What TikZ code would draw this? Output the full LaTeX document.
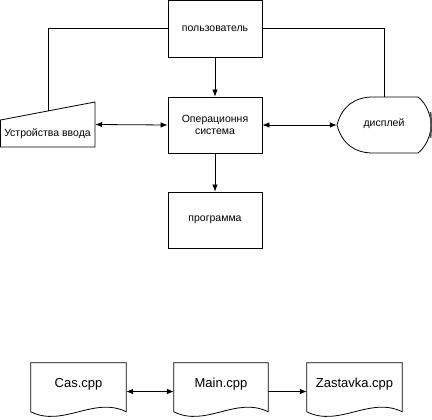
\documentclass[tikz,border=0pt]{standalone}
\usepackage{fontspec}
\setmainfont{Liberation Sans}
\usetikzlibrary{arrows.meta,calc}
\begin{document}
\begin{tikzpicture}[x=1pt,y=-1pt,
  box/.style={draw,line width=0.8pt,minimum width=94pt,minimum height=56pt,inner sep=0pt,font=\fontsize{10.5}{12}\selectfont,align=center},
  ghost/.style={inner sep=0pt},
  lbl/.style={inner sep=0pt,font=\fontsize{10.5}{12}\selectfont},
  doclbl/.style={inner sep=0pt,font=\fontsize{13}{15}\selectfont},
  ln/.style={line width=0.8pt},
  arr/.style={ln,-{Latex[length=7pt,width=5.5pt]}},
  barr/.style={ln,{Latex[length=7pt,width=5.5pt]}-{Latex[length=7pt,width=5.5pt]}}]
\useasboundingbox (0,0) rectangle (432,420);
\fill[white] (0,0) rectangle (432,420);
% top diagram
\node[box,minimum height=57pt] (user) at (215,28.5) {пользователь};
\node[box] (os) at (215,125) {Операционня\\система};
\node[box] (prog) at (215,220) {программа};
% input device
\node[ghost,minimum width=95pt,minimum height=45pt] (inp) at (47.5,124.5) {};
\draw[ln,fill=white] (0.5,120) -- (95,102) -- (95,147) -- (0.5,147) -- cycle;
\node[lbl] (inptext) at (47.5,134) {Устройства ввода};
\coordinate (inptop) at (48,110.9);
% display
\node[ghost,minimum width=95pt,minimum height=56pt] (disp) at (384.5,125) {};
\draw[ln,fill=white] (337,125) .. controls (342,106) and (355,97) .. (373,97) -- (418,97)
  .. controls (426,103) and (431,115) .. (431,125) .. controls (431,135) and (426,147) .. (418,153)
  -- (373,153) .. controls (355,153) and (342,144) .. (337,125) -- cycle;
\draw[line width=1.6pt,gray!60!black] (430.5,112) .. controls (431.3,118) and (431.3,132) .. (430.5,138);
\node[lbl] (disptext) at (384,124) {дисплей};
% connectors
\draw[ln] (user.west) -| (inptop);
\draw[ln] (user.east) -| (disp.north);
\draw[arr] (user.south) -- (os.north);
\draw[arr] (os.south) -- (prog.north);
\draw[barr] (inp.east) -- (os.west);
\draw[barr] (os.east) -- (disp.west);
% bottom diagram
\newcommand\docshape[1]{\draw[ln] (#1.north west) -- (#1.north east) -- ($(#1.north east)+(0,49)$)
  .. controls +(-32,-16) and +(32,16) .. ($(#1.north west)+(0,49)$) -- cycle;}
\node[ghost,minimum width=95pt,minimum height=57pt] (cas) at (78.5,391.5) {};
\node[ghost,minimum width=94pt,minimum height=57pt] (main) at (221,391.5) {};
\node[ghost,minimum width=95pt,minimum height=57pt] (zast) at (354.5,391.5) {};
\docshape{cas}
\docshape{main}
\docshape{zast}
\node[doclbl] (castext) at (78.5,384) {Cas.cpp};
\node[doclbl] (maintext) at (221,384) {Main.cpp};
\node[doclbl] (zasttext) at (354.5,384) {Zastavka.cpp};
\draw[barr] (cas.east) -- (main.west);
\draw[arr] (main.east) -- (zast.west);
\end{tikzpicture}
\end{document}
